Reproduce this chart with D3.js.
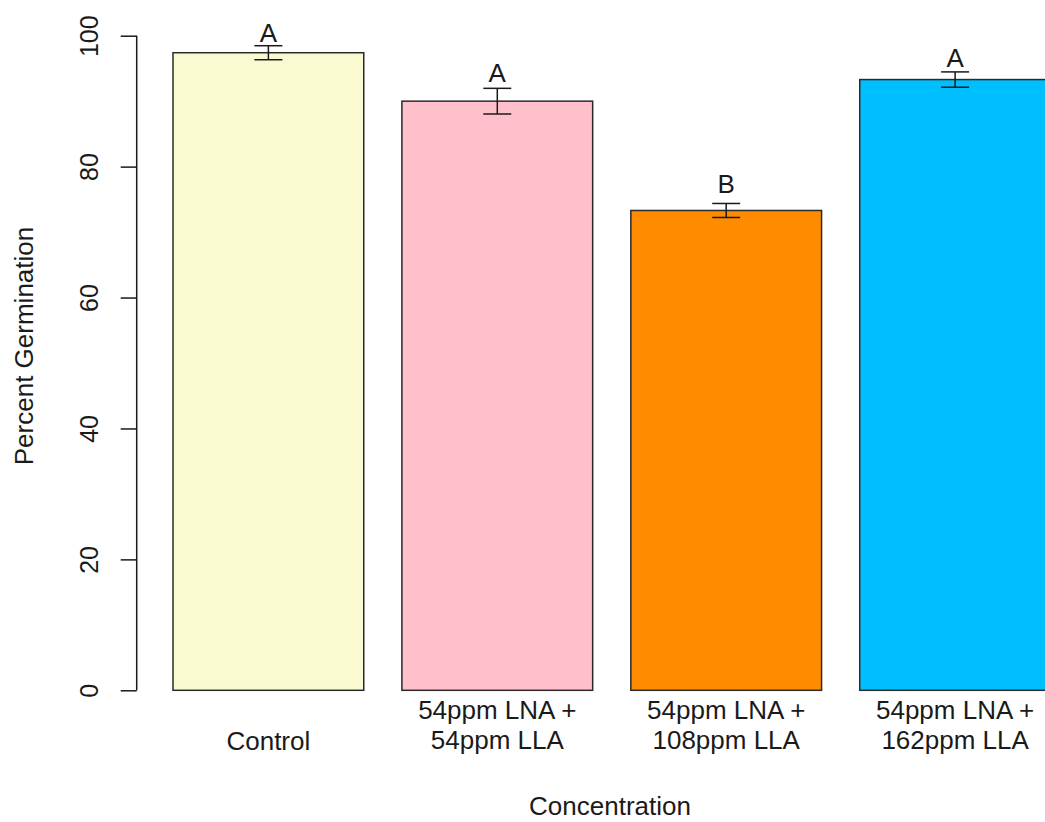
<!DOCTYPE html>
<html>
<head>
<meta charset="utf-8">
<script src="https://cdn.jsdelivr.net/npm/d3@7"></script>
<style>
  html, body { margin: 0; padding: 0; background: #fff; }
  svg { display: block; }
  text { font-family: "Liberation Sans", Arial, sans-serif; fill: #1a1a1a; }
</style>
</head>
<body>
<svg id="chart" width="1045" height="822"></svg>
<script>
// ---- data ----
const categories = ["Control", "54ppm LNA +\n54ppm LLA", "54ppm LNA +\n108ppm LLA", "54ppm LNA +\n162ppm LLA"];
const means = [97.4, 90.0, 73.3, 93.3];
const errors = [1.07, 1.96, 1.07, 1.17];
const letters = ["A", "A", "B", "A"];
const letterY = [99.0, 93.0, 76.0, 95.2];
const colors = ["#FAFAD2", "#FFC0CB", "#FF8C00", "#00BFFF"];
const yTicks = [0, 20, 40, 60, 80, 100];

// ---- layout ----
const svg = d3.select("#chart");
const y = d3.scaleLinear().domain([0, 100]).range([690.3, 35.7]);
const x = d3.scaleBand().domain(categories).range([173, 1050.5])
  .paddingInner(0.2 / 1.2).paddingOuter(0);
const axisX = 136.7;
const ink = "#1a1a1a";

// bars
svg.append("g").selectAll("rect").data(categories).join("rect")
  .attr("x", d => x(d))
  .attr("y", (d, i) => y(means[i]))
  .attr("width", x.bandwidth())
  .attr("height", (d, i) => y(0) - y(means[i]))
  .attr("fill", (d, i) => colors[i])
  .attr("stroke", "#2a2a2a")
  .attr("stroke-width", 1.5);

// error bars
const eb = svg.append("g").attr("stroke", ink).attr("stroke-width", 1.5).attr("fill", "none");
categories.forEach((c, i) => {
  const cx = x(c) + x.bandwidth() / 2;
  const y1 = y(means[i] + errors[i]), y2 = y(means[i] - errors[i]);
  eb.append("line").attr("x1", cx).attr("x2", cx).attr("y1", y1).attr("y2", y2);
  eb.append("line").attr("x1", cx - 14).attr("x2", cx + 14).attr("y1", y1).attr("y2", y1);
  eb.append("line").attr("x1", cx - 14).attr("x2", cx + 14).attr("y1", y2).attr("y2", y2);
});

// significance letters
svg.append("g").selectAll("text").data(categories).join("text")
  .attr("x", d => x(d) + x.bandwidth() / 2)
  .attr("y", (d, i) => y(letterY[i]))
  .attr("text-anchor", "middle")
  .style("font-size", "26px")
  .text((d, i) => letters[i]);

// y axis
const yAxis = d3.axisLeft(y).tickValues(yTicks).tickSize(16).tickPadding(6).tickSizeOuter(0);
const gy = svg.append("g").attr("transform", `translate(${axisX},0)`).call(yAxis);
gy.select(".domain").attr("stroke", ink).attr("stroke-width", 1.5)
  .attr("d", `M0,${y(0)}V${y(100)}`);
gy.selectAll(".tick line").attr("stroke", ink).attr("stroke-width", 1.5);
gy.selectAll(".tick text")
  .attr("x", null).attr("dy", null)
  .attr("text-anchor", "middle")
  .attr("transform", "translate(-39,0) rotate(-90)")
  .attr("y", 0)
  .style("font-size", "25px")
  .style("font-family", "'Liberation Sans', Arial, sans-serif")
  .attr("fill", ink);

// x category labels
const xl = svg.append("g");
categories.forEach(c => {
  const lines = c.split("\n");
  const cx = x(c) + x.bandwidth() / 2;
  const t = xl.append("text").attr("text-anchor", "middle").style("font-size", "26px");
  if (lines.length === 1) {
    t.append("tspan").attr("x", cx).attr("y", 750).text(lines[0]);
  } else {
    lines.forEach((l, k) => t.append("tspan").attr("x", cx).attr("y", 719 + k * 30).text(l));
  }
});

// axis titles
svg.append("text").attr("x", 610).attr("y", 815).attr("text-anchor", "middle")
  .style("font-size", "26px").text("Concentration");
svg.append("text").attr("transform", "translate(33,346) rotate(-90)")
  .attr("text-anchor", "middle").style("font-size", "26px").text("Percent Germination");
</script>
</body>
</html>
